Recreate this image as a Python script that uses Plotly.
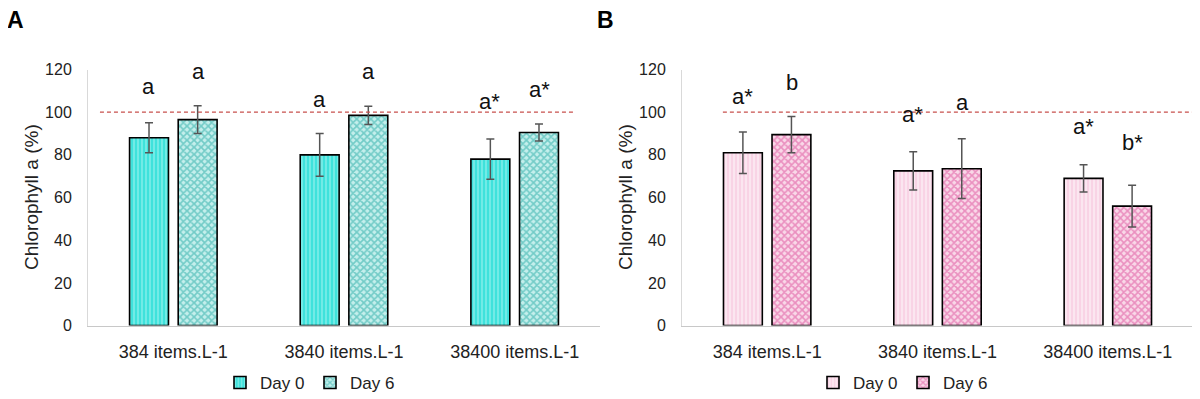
import plotly.graph_objects as go

categories = ["384 items.L-1", "3840 items.L-1", "38400 items.L-1"]

# Panel A
a_day0 = [88, 80, 78]
a_day0_err = [7, 10, 9.4]
a_day6 = [96.5, 98.5, 90.5]
a_day6_err = [6.5, 4.3, 4]
a_day0_lbl = ["a", "a", "a*"]
a_day6_lbl = ["a", "a", "a*"]
a_day0_lbl_y = [112, 106, 105]
a_day6_lbl_y = [119, 119, 110.5]

# Panel B
b_day0 = [81, 72.5, 69]
b_day0_err = [9.7, 9, 6.4]
b_day6 = [89.5, 73.5, 56]
b_day6_err = [8.5, 14, 9.8]
b_day0_lbl = ["a*", "a*", "a*"]
b_day6_lbl = ["b", "a", "b*"]
b_day0_lbl_y = [107.5, 98.8, 93.4]
b_day6_lbl_y = [114, 104.6, 85.7]

reference_level = 100

FONT = "Liberation Sans, Arial, sans-serif"
TXT = "#222222"

# page body has an 8px default margin: size the figure to fill the rest of the window
OFF = 8
W, H = 1200 - OFF, 399 - OFF


def px(x):
    return (x - OFF) / W


def py(y):
    return 1 - (y - OFF) / H


fig = go.Figure()


def add_bar(name, vals, errs, xa, ya, legend, bg, fg, shape, solidity, size):
    fig.add_trace(go.Bar(
        x=categories, y=vals, name=name, xaxis=xa, yaxis=ya, legend=legend,
        marker=dict(color=bg, line=dict(color="black", width=1.6),
                    pattern=dict(shape=shape, fgcolor=fg, bgcolor=bg,
                                 solidity=solidity, size=size, fillmode="overlay")),
        error_y=dict(type="data", array=errs, visible=True, color="#555555",
                     thickness=1.5, width=4),
        hoverinfo="skip",
    ))


add_bar("Day 0", a_day0, a_day0_err, "x", "y", "legend", "#3fe2dc", "#e8fffe", "|", 0.3, 4)
add_bar("Day 6", a_day6, a_day6_err, "x", "y", "legend", "#c4efec", "#1fa8a2", "x", 0.55, 5)
add_bar("Day 0", b_day0, b_day0_err, "x2", "y2", "legend2", "#fbe6f0", "#f4a8cc", "|", 0.3, 4)
add_bar("Day 6", b_day6, b_day6_err, "x2", "y2", "legend2", "#f9d8e8", "#dc4596", "x", 0.55, 5)


# significance letters
def add_letters(labels, ys, xa, ya, offset):
    for i, (t, yv) in enumerate(zip(labels, ys)):
        fig.add_annotation(x=i + offset, y=yv, xref=xa, yref=ya, text=t,
                           showarrow=False, font=dict(size=22, family=FONT, color="#111"))


add_letters(a_day0_lbl, a_day0_lbl_y, "x", "y", -0.145)
add_letters(a_day6_lbl, a_day6_lbl_y, "x", "y", 0.145)
add_letters(b_day0_lbl, b_day0_lbl_y, "x2", "y2", -0.145)
add_letters(b_day6_lbl, b_day6_lbl_y, "x2", "y2", 0.145)

# reference dashed lines
fig.add_shape(type="line", xref="x", yref="y", x0=-0.43, x1=2.35,
              y0=reference_level, y1=reference_level,
              line=dict(color="#c8504d", width=1.2, dash="4px,3px"), layer="above")
fig.add_shape(type="line", xref="x2", yref="y2", x0=-0.26, x1=2.6,
              y0=reference_level, y1=reference_level,
              line=dict(color="#c8504d", width=1.2, dash="4px,3px"), layer="above")

# panel letters
for lbl, xx in (("A", 15), ("B", 605)):
    fig.add_annotation(x=px(xx), y=py(20), xref="paper", yref="paper", text="<b>%s</b>" % lbl,
                       showarrow=False, xanchor="center", yanchor="middle",
                       font=dict(size=23, family=FONT, color="black"))

# y-axis titles
for xx in (31, 625):
    fig.add_annotation(x=px(xx), y=py(197), xref="paper", yref="paper",
                       text="Chlorophyll a (%)", textangle=-90, showarrow=False,
                       xanchor="center", yanchor="middle",
                       font=dict(size=19, family=FONT, color=TXT))

ydom = [py(325.6), py(69.5)]
xcommon = dict(showgrid=False, showline=True, linecolor="#c8c8c8", linewidth=1.2,
               ticks="", tickfont=dict(size=18, family=FONT, color=TXT),
               ticklabelstandoff=10, range=[-0.5, 2.5], fixedrange=True, automargin=False)
ycommon = dict(showgrid=False, showline=True, linecolor="#d9d9d9", linewidth=1,
               range=[0, 120], dtick=20, ticks="", zeroline=False, automargin=False,
               tickfont=dict(size=16, family=FONT, color=TXT), ticklabelstandoff=12)

legend_common = dict(orientation="h", y=py(383), xanchor="center",
                     yanchor="middle", font=dict(size=17, family=FONT, color=TXT),
                     itemwidth=30, entrywidth=45, bgcolor="rgba(0,0,0,0)",
                     traceorder="normal")

fig.update_layout(
    width=W, height=H,
    margin=dict(l=0, r=0, t=0, b=0, autoexpand=False),
    paper_bgcolor="white", plot_bgcolor="white",
    barmode="group", bargap=0.43, bargroupgap=0.2,
    font=dict(family=FONT, color=TXT),
    xaxis=dict(domain=[px(88), px(600)], anchor="y", **xcommon),
    yaxis=dict(domain=ydom, anchor="x", **ycommon),
    xaxis2=dict(domain=[px(682), px(1193)], anchor="y2", **xcommon),
    yaxis2=dict(domain=ydom, anchor="x2", **ycommon),
    legend=dict(x=px(310), **legend_common),
    legend2=dict(x=px(903), **legend_common),
    showlegend=True,
)

fig.write_html("out.html")
